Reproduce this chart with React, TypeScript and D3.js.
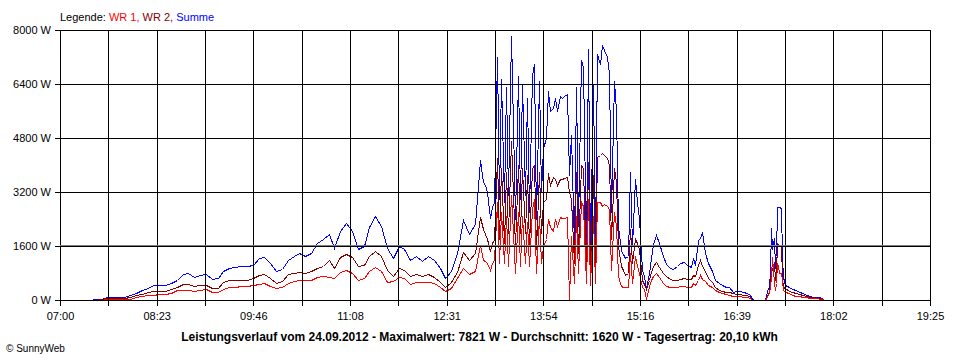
import React from 'react';
import * as d3 from 'd3';

// Zeitpunkte (HH:MM) und Leistung in W
const times = [
  '07:27', '07:30', '07:35', '07:40', '07:45', '07:50', '07:55', '08:00', '08:05', '08:10',
  '08:15', '08:20', '08:25', '08:30', '08:35', '08:40', '08:45', '08:50', '08:55', '09:00',
  '09:05', '09:10', '09:15', '09:20', '09:25', '09:30', '09:35', '09:40', '09:45', '09:50',
  '09:55', '10:00', '10:05', '10:10', '10:15', '10:20', '10:25', '10:30', '10:35', '10:40',
  '10:45', '10:50', '10:55', '11:00', '11:05', '11:10', '11:15', '11:20', '11:25', '11:30',
  '11:35', '11:40', '11:45', '11:50', '11:55', '12:00', '12:05', '12:10', '12:15', '12:20',
  '12:25', '12:30', '12:35', '12:40', '12:45', '12:50', '12:55', '13:00', '13:02', '13:04',
  '13:06', '13:08', '13:10', '13:12', '13:14', '13:16', '13:18', '13:20', '13:22', '13:24',
  '13:26', '13:28', '13:30', '13:32', '13:34', '13:36', '13:38', '13:40', '13:42', '13:44',
  '13:46', '13:48', '13:50', '13:52', '13:54', '13:56', '13:58', '14:00', '14:02', '14:04',
  '14:06', '14:08', '14:10', '14:12', '14:14', '14:16', '14:18', '14:20', '14:22', '14:24',
  '14:26', '14:28', '14:30', '14:32', '14:34', '14:36', '14:38', '14:40', '14:42', '14:44',
  '14:46', '14:48', '14:50', '14:52', '14:54', '14:56', '14:58', '15:00', '15:02', '15:04',
  '15:06', '15:08', '15:10', '15:12', '15:14', '15:16', '15:18', '15:20', '15:22', '15:24',
  '15:26', '15:28', '15:30', '15:33', '15:36', '15:39', '15:42', '15:45', '15:48', '15:51',
  '15:54', '15:57', '16:00', '16:02', '16:04', '16:06', '16:08', '16:10', '16:12', '16:15',
  '16:18', '16:21', '16:24', '16:27', '16:30', '16:33', '16:36', '16:39', '16:42', '16:45',
  '16:48', '16:51', '16:53', '16:55', '17:04', '17:06', '17:07', '17:08', '17:09', '17:10',
  '17:11', '17:12', '17:13', '17:14', '17:15', '17:16', '17:17', '17:18', '17:19', '17:21',
  '17:24', '17:27', '17:30', '17:33', '17:36', '17:39', '17:42', '17:45', '17:48', '17:51',
  '17:53', '17:54',
];

const summe = [
  15, 20, 30, 80, 90, 90, 100, 160, 220, 290,
  370, 430, 435, 440, 500, 590, 770, 790, 670, 740,
  770, 620, 640, 860, 940, 990, 1000, 1000, 1050, 1240,
  1280, 1100, 850, 920, 1180, 1300, 1400, 1310, 1380, 1700,
  1800, 1950, 1550, 2050, 2280, 2050, 1500, 1600, 2150, 2480,
  2200, 1550, 1250, 1600, 1500, 1200, 1290, 1150, 1300, 1200,
  950, 650, 850, 1400, 2380, 1950, 2250, 4150, 3500, 3400,
  3200, 2420, 2765, 2900, 7200, 3000, 6550, 2900, 6300, 3100,
  7821, 5200, 2400, 6650, 3000, 6400, 3100, 6000, 2600, 6650,
  7000, 2400, 6500, 3200, 4500, 4800, 6200, 5600, 5700, 6000,
  5600, 6050, 6000, 6050, 6100, 3700, 4900, 1600, 6300, 2200,
  7100, 6900, 1400, 7450, 1350, 6400, 1600, 7300, 7000, 7550,
  7400, 7200, 6700, 2600, 6500, 5600, 2200, 1450, 1350, 1250,
  1300, 3800, 1600, 3600, 2900, 2400, 900, 700, 350, 800,
  1250, 1650, 1925, 1700, 1300, 1080, 950, 910, 1000, 1100,
  1135, 1035, 970, 1235, 1035, 1780, 1850, 2025, 1400, 1100,
  850, 590, 500, 445, 400, 380, 250, 255, 265, 240,
  215, 140, 20, 0, 0, 355, 395, 900, 2125, 1500,
  1830, 940, 1300, 2765, 2765, 2765, 2740, 1285, 690, 450,
  380, 320, 290, 230, 200, 160, 120, 100, 90, 80,
  30, 0,
];

const wr2 = [
  10, 10, 15, 50, 60, 70, 70, 100, 150, 190,
  230, 265, 265, 270, 320, 375, 460, 470, 415, 450,
  455, 370, 370, 530, 580, 590, 590, 595, 640, 740,
  760, 640, 500, 560, 760, 810, 840, 810, 850, 960,
  1000, 1180, 950, 1260, 1360, 1260, 1000, 1050, 1300, 1440,
  1300, 900, 720, 960, 880, 700, 780, 700, 760, 680,
  540, 400, 540, 820, 1420, 1200, 1380, 2470, 2100, 1950,
  1800, 1450, 1720, 1750, 4200, 1800, 3900, 1700, 3800, 2000,
  4700, 3100, 1600, 4000, 2000, 3900, 2000, 3700, 1600, 3900,
  4000, 1500, 3800, 2000, 2900, 3000, 3750, 3400, 3650, 3600,
  3400, 3600, 3580, 3620, 3650, 3200, 3000, 1100, 3800, 1400,
  4000, 3900, 900, 4100, 900, 3700, 1000, 4250, 4300, 4350,
  4300, 4200, 4000, 1800, 3900, 3500, 1600, 1000, 900, 750,
  800, 2100, 1100, 1800, 1700, 1500, 600, 480, 330, 600,
  830, 1000, 1135, 990, 800, 700, 620, 600, 590, 620,
  640, 620, 610, 740, 700, 1035, 1185, 1000, 850, 650,
  520, 380, 300, 280, 250, 240, 200, 180, 170, 160,
  150, 100, 10, 0, 0, 200, 250, 500, 890, 900,
  1135, 590, 800, 1680, 1650, 1630, 1600, 690, 400, 345,
  280, 230, 200, 170, 150, 120, 100, 80, 60, 50,
  30, 0,
];

const wr1 = [
  5, 5, 10, 20, 25, 25, 30, 40, 90, 110,
  140, 155, 170, 170, 210, 290, 310, 300, 275, 300,
  315, 250, 240, 340, 380, 400, 410, 415, 430, 480,
  495, 420, 350, 400, 500, 560, 590, 590, 600, 680,
  710, 680, 650, 820, 900, 800, 600, 650, 850, 970,
  850, 520, 560, 690, 640, 470, 520, 540, 540, 490,
  400, 260, 350, 640, 940, 780, 870, 1630, 1200, 1150,
  1100, 900, 1100, 1180, 2900, 1100, 2600, 1100, 2500, 1000,
  3100, 2000, 800, 2600, 1000, 2500, 1100, 2300, 1000, 2700,
  3000, 800, 2500, 1100, 1600, 1800, 2400, 2150, 2050, 2400,
  2200, 2450, 2420, 2430, 2450, 0, 1900, 500, 2500, 800,
  2900, 2800, 500, 3000, 450, 2500, 500, 2900, 2900, 2800,
  2850, 2800, 2700, 900, 2600, 2200, 700, 420, 400, 380,
  400, 1400, 500, 1300, 1000, 800, 380, 320, 20, 420,
  600, 720, 790, 690, 500, 420, 400, 395, 400, 410,
  415, 400, 395, 500, 450, 590, 740, 620, 560, 450,
  380, 300, 240, 200, 170, 150, 130, 120, 110, 100,
  90, 60, 10, 0, 0, 150, 245, 400, 700, 1285,
  495, 300, 500, 1085, 1000, 790, 800, 590, 300, 245,
  200, 150, 130, 120, 100, 80, 60, 50, 45, 40,
  20, 0,
];

const yTicks = [0, 1600, 3200, 4800, 6400, 8000];
const xTickLabels = ['07:00', '08:23', '09:46', '11:08', '12:31', '13:54', '15:16', '16:39', '18:02', '19:25'];
const durchschnitt = 1620;
const titel = 'Leistungsverlauf vom 24.09.2012 - Maximalwert: 7821 W - Durchschnitt: 1620 W - Tagesertrag: 20,10 kWh';

const toMin = (s: string) => {
  const [h, m] = s.split(':').map(Number);
  return h * 60 + m;
};

const FONT = '"Liberation Sans", Arial, sans-serif';

export default function App() {
  const width = 960;
  const height = 360;
  const left = 60, right = 930, top = 30, bottom = 300;

  const tStart = toMin(xTickLabels[0]);
  const tEnd = toMin(xTickLabels[xTickLabels.length - 1]);

  const x = d3.scaleLinear().domain([tStart, tEnd]).range([left, right]);
  const y = d3.scaleLinear().domain([0, 8000]).range([bottom, top]);

  // 18 Gitterintervalle, jedes zweite beschriftet
  const nGrid = (xTickLabels.length - 1) * 2;
  const xGrid = d3.range(nGrid + 1).map(i => tStart + (i * (tEnd - tStart)) / nGrid);

  const mins = times.map(toMin);
  const line = d3.line<number>()
    .x((_, i) => Math.round(x(mins[i])) + 0.5)
    .y(d => Math.round(y(d)) + 0.5);

  const series = [
    { name: 'Summe', values: summe, color: '#0000ff' },
    { name: 'WR 2', values: wr2, color: '#800000' },
    { name: 'WR 1', values: wr1, color: '#ff0000' },
  ];

  return (
    <svg
      width={width}
      height={height}
      style={{ position: 'absolute', left: 0, top: 0, background: '#fff' }}
      fontFamily={FONT}
    >
      <rect x={0} y={0} width={width} height={height} fill="#fff" />

      {/* Legende */}
      <text x={60} y={21} fontSize={11}>
        <tspan fill="#000">Legende: </tspan>
        <tspan fill="#ff0000">WR 1, </tspan>
        <tspan fill="#800000">WR 2, </tspan>
        <tspan fill="#0000ff">Summe</tspan>
      </text>

      {/* Kurven */}
      {series.map(s => (
        <path
          key={s.name}
          d={line(s.values) || ''}
          fill="none"
          stroke={s.color}
          strokeWidth={1}
          shapeRendering="crispEdges"
        />
      ))}

      {/* Gitter */}
      <g shapeRendering="crispEdges" stroke="#000" strokeWidth={1}>
        {yTicks.map(v => (
          <line key={'h' + v} x1={left - 5} x2={right} y1={Math.round(y(v)) + 0.5} y2={Math.round(y(v)) + 0.5} />
        ))}
        {xGrid.map((t, i) => (
          <line key={'v' + i} x1={Math.round(x(t)) + 0.5} x2={Math.round(x(t)) + 0.5} y1={top} y2={bottom + 6} />
        ))}
      </g>

      {/* Durchschnitt */}
      <line
        x1={left}
        x2={right}
        y1={Math.floor(y(durchschnitt)) + 0.5}
        y2={Math.floor(y(durchschnitt)) + 0.5}
        stroke="#808080"
        strokeWidth={1}
        shapeRendering="crispEdges"
      />

      {/* Y-Beschriftung */}
      {yTicks.map(v => (
        <text key={'yl' + v} x={51} y={y(v) + 4} fontSize={11} textAnchor="end" fill="#000">
          {v} W
        </text>
      ))}

      {/* X-Beschriftung */}
      {xTickLabels.map((lab, i) => (
        <text key={'xl' + i} x={x(xGrid[i * 2]) + 0.5} y={320} fontSize={11} textAnchor="middle" fill="#000">
          {lab}
        </text>
      ))}

      <text x={479.5} y={341} fontSize={12} fontWeight="bold" textAnchor="middle" fill="#000">
        {titel}
      </text>

      <text x={6} y={352} fontSize={10} fill="#000">© SunnyWeb</text>
    </svg>
  );
}
